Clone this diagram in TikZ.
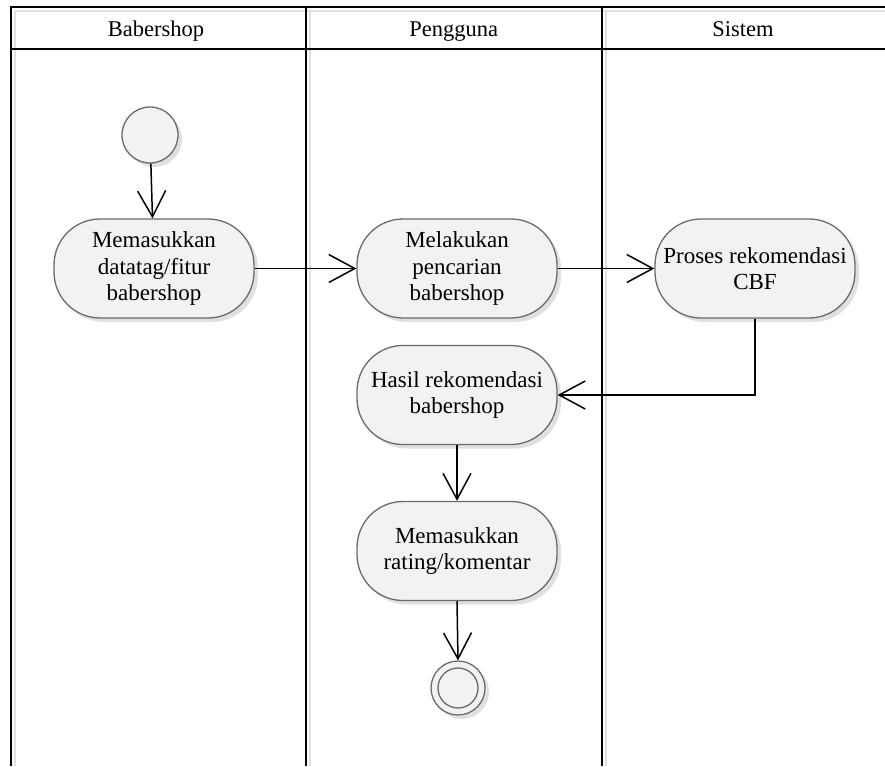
\documentclass[tikz,border=0pt]{standalone}
\usepackage{fontspec}
\setmainfont{Liberation Serif}
\usetikzlibrary{arrows.meta,shadows}

\tikzset{
  lane/.style={draw=black, line width=2pt},
  laneshade/.style={draw=black!12, line width=2pt},
  lanetitle/.style={font=\fontsize{22.5}{26}\selectfont, anchor=base},
  act/.style={rectangle, rounded corners=46pt, draw=black!58, line width=1.3pt,
    fill=black!5, minimum width=200pt, minimum height=99pt, align=center,
    inner sep=1pt, font=\fontsize{23}{26.5}\selectfont,
    drop shadow={shadow xshift=4pt, shadow yshift=-4pt, fill=black!12, opacity=1}},
  initnode/.style={circle, draw=black!58, line width=1.3pt, fill=black!5,
    minimum size=56pt, inner sep=0pt,
    drop shadow={shadow xshift=4pt, shadow yshift=-4pt, fill=black!12, opacity=1}},
  finalnode/.style={circle, draw=black!58, line width=1.3pt, fill=black!5,
    minimum size=54pt, inner sep=0pt,
    drop shadow={shadow xshift=4pt, shadow yshift=-4pt, fill=black!12, opacity=1}},
  flow/.style={draw=black, line width=1.5pt,
    -{Straight Barb[length=26pt, width=28pt, line width=1.5pt]}}
}

\begin{document}
\begin{tikzpicture}[x=1pt, y=-1pt]
  \useasboundingbox (0,0) rectangle (885,766);
  \fill[white] (0,0) rectangle (885,766);

  % light shading beside the swimlane frame
  \draw[laneshade] (885,10.5) -- (14.5,10.5) -- (14.5,766);
  \draw[laneshade] (310,10.5) -- (310,766);
  \draw[laneshade] (605.5,10.5) -- (605.5,766);

  % swimlane frame
  \draw[lane] (885,6.5) -- (10.5,6.5) -- (10.5,766);
  \draw[lane] (10.5,48.5) -- (885,48.5);
  \draw[lane] (306,6.5) -- (306,766);
  \draw[lane] (601.5,6.5) -- (601.5,766);

  % lane titles
  \node[lanetitle] (t1) at (156,36.5) {Babershop};
  \node[lanetitle] (t2) at (453.75,36.5) {Pengguna};
  \node[lanetitle] (t3) at (743,36.5) {Sistem};

  % activities
  \node[initnode] (start) at (150,135) {};
  \node[act] (input) at (154,268.5) {Memasukkan\\datatag/fitur\\babershop};
  \node[act] (search) at (457,268.5) {Melakukan\\pencarian\\babershop};
  \node[act] (cbf) at (755,268.5) {Proses rekomendasi\\CBF};
  \node[act] (result) at (457,395) {Hasil rekomendasi\\babershop};
  \node[act] (rate) at (457,551) {Memasukkan\\rating/komentar};
  \node[finalnode] (stop) at (458,688) {};
  \draw[draw=black!58, line width=1.3pt] (stop.center) circle (20pt);

  % control flow
  \draw[flow] (start) -- (input);
  \draw[flow] (input) -- (search);
  \draw[flow] (search) -- (cbf);
  \draw[flow] (cbf.south) |- (result.east);
  \draw[flow] (result) -- (rate);
  \draw[flow] (rate.south) -- (stop.north);
\end{tikzpicture}
\end{document}
